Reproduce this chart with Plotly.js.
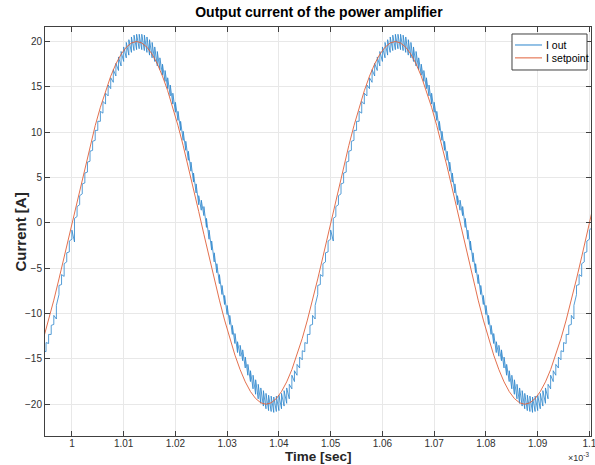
<!DOCTYPE html>
<html>
<head>
<meta charset="utf-8">
<script src="https://cdn.plot.ly/plotly-3.0.1.min.js"></script>
<style>
  html, body { margin: 0; padding: 0; background: #ffffff; }
  #chart { width: 595px; height: 465px; }
</style>
</head>
<body>
<div id="chart"></div>
<script>
// ---- data (time in units of 1e-3 s, current in A) ----
// I out: bottom and top of each switching ripple, one ripple every 0.0005 (x1e-3 s) from 0.9945
var outStart = 0.9945;
var outStep = 0.0005;
var iOutLow = [
  -15.1, -14.2, -13.3, -12.3, -11.2, -10.6, -7.9, -6.8, -5.9, -4.3, -3.2, -1.8, -2.1,
  0.7, 2.0, 3.2, 4.4, 5.6, 6.8, 8.0, 9.1, 10.2, 11.2, 12.1, 13.1, 14.0, 14.8, 15.5,
  16.2, 16.8, 17.3, 17.8, 18.2, 18.5, 18.8, 19.0, 19.1, 19.2, 19.1, 19.0, 18.8, 18.5,
  18.2, 17.8, 17.3, 16.9, 16.3, 15.6, 14.8, 14.0, 13.1, 12.2, 11.3, 10.2, 9.1, 8.0,
  6.9, 5.7, 4.5, 3.3, 2.0, 1.4, 0.8, -0.5, -1.8, -3.0, -4.3, -5.5, -6.7, -7.9, -9.0,
  -10.1, -11.2, -12.3, -13.3, -14.3, -14.7, -15.2, -16.0, -16.8, -17.5, -18.3, -18.9,
  -19.4, -19.9, -20.2, -20.5, -20.7, -20.8, -20.9, -20.8, -20.7, -20.5, -20.2, -19.9,
  -19.4, -18.3, -17.5, -16.8, -16.0, -15.1, -14.2, -13.3, -12.3, -11.2, -10.6, -7.9,
  -6.8, -5.9, -4.3, -3.2, -1.8, -2.0,
  0.7, 2.0, 3.2, 4.4, 5.6, 6.8, 8.0, 9.1, 10.2, 11.2, 12.1, 13.1, 14.0, 14.8, 15.5,
  16.2, 16.8, 17.3, 17.8, 18.2, 18.5, 18.8, 19.0, 19.1, 19.2, 19.1, 19.0, 18.8, 18.5,
  18.2, 17.8, 17.3, 16.9, 16.3, 15.6, 14.8, 14.0, 13.1, 12.2, 11.3, 10.2, 9.1, 8.0,
  6.9, 5.7, 4.5, 3.3, 2.0, 1.4, 0.8, -0.5, -1.8, -3.0, -4.3, -5.5, -6.7, -7.9, -9.0,
  -10.1, -11.2, -12.3, -13.3, -14.3, -14.7, -15.2, -16.0, -16.8, -17.5, -18.3, -18.9,
  -19.4, -19.9, -20.2, -20.5, -20.7, -20.8, -20.9, -20.8, -20.7, -20.5, -20.2, -19.9,
  -19.4, -18.3, -17.5, -16.8, -16.0, -15.1, -14.2, -13.3, -12.3, -11.2, -10.6, -7.9,
  -6.8, -5.9, -4.3, -3.2, -1.8, -0.5
];
var iOutHigh = [
  -14.1, -13.2, -12.3, -11.3, -10.2, -9.1, -6.9, -5.7, -4.5, -3.3, -2.0, -0.8, 0.5,
  1.8, 3.0, 4.3, 5.5, 6.7, 7.9, 9.0, 10.2, 11.2, 12.3, 13.4, 14.3, 15.2, 16.0, 16.9,
  17.6, 18.3, 18.9, 19.4, 19.9, 20.2, 20.5, 20.7, 20.8, 20.8, 20.8, 20.7, 20.5, 20.2,
  19.9, 19.4, 18.9, 18.2, 17.5, 16.8, 16.0, 15.2, 14.3, 13.3, 12.3, 11.2, 10.1, 9.0,
  7.9, 6.7, 5.5, 4.3, 3.0, 2.5, 1.8, 0.5, -0.8, -2.0, -3.3, -4.5, -5.7, -6.9, -8.0,
  -9.1, -10.2, -11.3, -12.2, -13.1, -13.5, -14.0, -14.8, -15.6, -16.3, -16.8, -17.3,
  -17.8, -18.2, -18.5, -18.8, -19.0, -19.1, -19.2, -19.1, -19.0, -18.8, -18.5, -18.2,
  -17.8, -16.8, -16.3, -15.6, -14.8, -14.1, -13.2, -12.3, -11.3, -10.2, -9.1, -6.9,
  -5.7, -4.5, -3.3, -2.0, -0.8, 0.5,
  1.8, 3.0, 4.3, 5.5, 6.7, 7.9, 9.0, 10.2, 11.2, 12.3, 13.4, 14.3, 15.2, 16.0, 16.9,
  17.6, 18.3, 18.9, 19.4, 19.9, 20.2, 20.5, 20.7, 20.8, 20.8, 20.8, 20.7, 20.5, 20.2,
  19.9, 19.4, 18.9, 18.2, 17.5, 16.8, 16.0, 15.2, 14.3, 13.3, 12.3, 11.2, 10.1, 9.0,
  7.9, 6.7, 5.5, 4.3, 3.0, 2.5, 1.8, 0.5, -0.8, -2.0, -3.3, -4.5, -5.7, -6.9, -8.0,
  -9.1, -10.2, -11.3, -12.2, -13.1, -13.5, -14.0, -14.8, -15.6, -16.3, -16.8, -17.3,
  -17.8, -18.2, -18.5, -18.8, -19.0, -19.1, -19.2, -19.1, -19.0, -18.8, -18.5, -18.2,
  -17.8, -16.8, -16.3, -15.6, -14.8, -14.1, -13.2, -12.3, -11.3, -10.2, -9.1, -6.9,
  -5.7, -4.5, -3.3, -2.0, -0.8, 2.0
];
// I setpoint: sampled every 0.001 (x1e-3 s) from 0.9945
var setStart = 0.9945;
var setStep = 0.001;
var iSet = [
  -12.75, -10.72, -8.52, -6.18, -3.75, -1.26, 1.26, 3.75, 6.18, 8.52, 10.72, 12.75,
  14.58, 16.18, 17.53, 18.60, 19.37, 19.84, 20.00, 19.84, 19.37, 18.60, 17.53, 16.18,
  14.58, 12.75, 10.72, 8.52, 6.18, 3.75, 1.26, -1.26, -3.75, -6.18, -8.52, -10.72,
  -12.75, -14.58, -16.18, -17.53, -18.60, -19.37, -19.84, -20.00, -19.84, -19.37,
  -18.60, -17.53, -16.18, -14.58,
  -12.75, -10.72, -8.52, -6.18, -3.75, -1.26, 1.26, 3.75, 6.18, 8.52, 10.72, 12.75,
  14.58, 16.18, 17.53, 18.60, 19.37, 19.84, 20.00, 19.84, 19.37, 18.60, 17.53, 16.18,
  14.58, 12.75, 10.72, 8.52, 6.18, 3.75, 1.26, -1.26, -3.75, -6.18, -8.52, -10.72,
  -12.75, -14.58, -16.18, -17.53, -18.60, -19.37, -19.84, -20.00, -19.84, -19.37,
  -18.60, -17.53, -16.18, -14.58,
  -12.75, -10.72, -8.52, -6.18, -3.75, -1.26, 1.26
];
var xTickVals = [1, 1.01, 1.02, 1.03, 1.04, 1.05, 1.06, 1.07, 1.08, 1.09, 1.1];
var xTickText = ['1', '1.01', '1.02', '1.03', '1.04', '1.05', '1.06', '1.07', '1.08', '1.09', '1.1'];
var yTickVals = [-20, -15, -10, -5, 0, 5, 10, 15, 20];
var seriesNames = ['I out', 'I setpoint'];
var seriesColors = ['#2a84cc', '#e0603a'];
var xTitle = 'Time [sec]';
var yTitle = 'Current [A]';
var chartTitle = 'Output current of the power amplifier';

// ---- build the switching waveform: each ripple drawn bottom -> top ----
var tOut = [], yOut = [];
for (var k = 0; k < iOutLow.length; k++) {
  var t = +(outStart + k * outStep).toFixed(5);
  tOut.push(t, t);
  yOut.push(iOutLow[k], iOutHigh[k]);
}
var tSet = iSet.map(function (v, j) { return +(setStart + j * setStep).toFixed(5); });

var FONT = 'Liberation Sans, Arial, sans-serif';
var traces = [
  { x: tOut, y: yOut, type: 'scatter', mode: 'lines', name: seriesNames[0],
    line: { color: seriesColors[0], width: 0.8 } },
  { x: tSet, y: iSet, type: 'scatter', mode: 'lines', name: seriesNames[1],
    line: { color: seriesColors[1], width: 0.9 } }
];

var axisCommon = {
  showline: true, mirror: 'ticks', linecolor: '#404040', linewidth: 1,
  ticks: 'inside', ticklen: 5, tickcolor: '#404040', tickwidth: 1,
  showgrid: true, gridcolor: '#e8e8e8', gridwidth: 1, zeroline: false,
  ticklabeloverflow: 'allow',
  tickfont: { family: FONT, size: 10, color: '#303030' }
};

// compact MATLAB-style legend box (paper coordinates)
var legBox = { x0: 0.8553, x1: 0.9927, y0: 0.8949, y1: 0.9829 };
var legRows = [0.956, 0.9245];
var legLine = { x0: 0.8608, x1: 0.9103 };
var shapes = [
  { type: 'rect', xref: 'paper', yref: 'paper', x0: legBox.x0, x1: legBox.x1, y0: legBox.y0, y1: legBox.y1,
    fillcolor: '#ffffff', line: { color: '#404040', width: 1 }, layer: 'above' }
];
var annotations = [];
seriesNames.forEach(function (name, i) {
  shapes.push({ type: 'line', xref: 'paper', yref: 'paper', x0: legLine.x0, x1: legLine.x1,
    y0: legRows[i], y1: legRows[i], line: { color: seriesColors[i], width: 1 }, layer: 'above' });
  annotations.push({ text: name, xref: 'paper', yref: 'paper', x: legLine.x1 + 0.004, y: legRows[i],
    xanchor: 'left', yanchor: 'middle', showarrow: false,
    font: { family: FONT, size: 10.5, color: '#000000' } });
});
annotations.push(
  { text: '<b>' + xTitle + '</b>', xref: 'paper', yref: 'paper', x: 0.5, y: -0.0709,
    xanchor: 'center', yanchor: 'bottom', showarrow: false, borderpad: 0,
    font: { family: FONT, size: 13.5, color: '#262626' } },
  { text: '<b>' + yTitle + '</b>', xref: 'paper', yref: 'paper', x: -0.044, y: 0.5,
    xanchor: 'center', yanchor: 'middle', textangle: -90, showarrow: false,
    font: { family: FONT, size: 15, color: '#262626' } },
  { text: '\u00d710<sup>-3</sup>', xref: 'paper', yref: 'paper', x: 1.0, y: 0, xanchor: 'right', yanchor: 'top',
    yshift: -13, showarrow: false,
    font: { family: FONT, size: 9, color: '#303030' } }
);

var layout = {
  width: 595, height: 465,
  margin: { l: 45, r: 4, t: 27, b: 29 },
  paper_bgcolor: '#ffffff', plot_bgcolor: '#ffffff',
  title: { text: '<b>' + chartTitle + '</b>', x: 0.536, xanchor: 'center', y: 0.975, yanchor: 'middle',
    font: { family: FONT, size: 14, color: '#000000' } },
  xaxis: Object.assign({}, axisCommon, {
    range: [0.9948, 1.1003], tickvals: xTickVals, ticktext: xTickText, ticklabelstandoff: -2
  }),
  yaxis: Object.assign({}, axisCommon, {
    range: [-23.5, 21.6], tickvals: yTickVals
  }),
  showlegend: false,
  shapes: shapes,
  annotations: annotations
};

Plotly.newPlot('chart', traces, layout, { displayModeBar: false, staticPlot: true });
</script>
</body>
</html>
